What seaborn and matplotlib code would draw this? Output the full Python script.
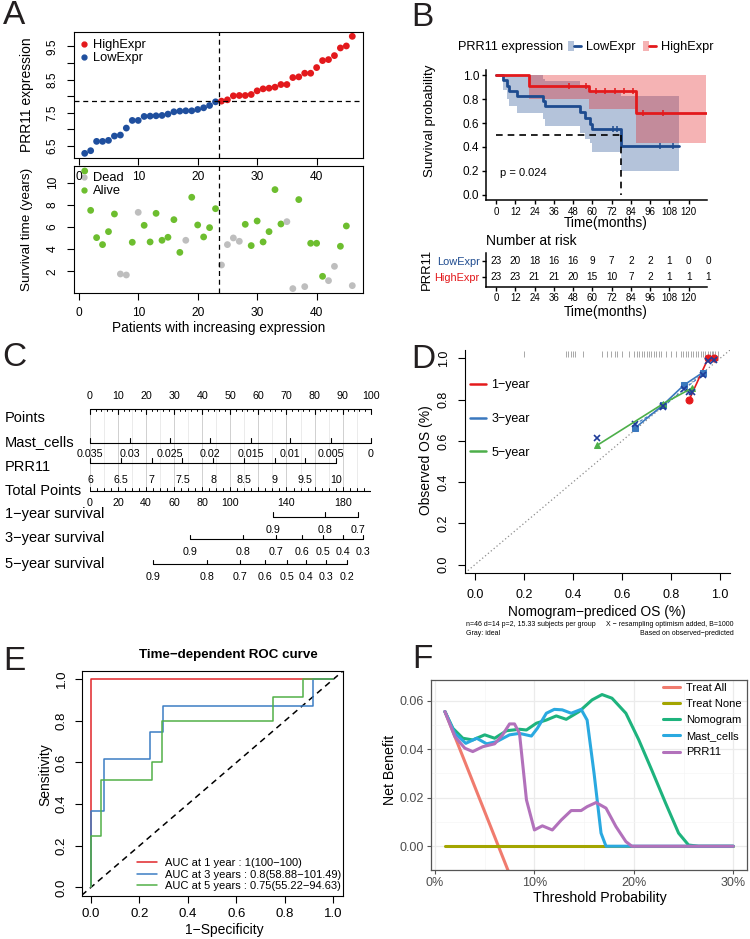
import numpy as np
import pandas as pd
import matplotlib
matplotlib.use("Agg")
import matplotlib.pyplot as plt
import seaborn as sns
from matplotlib.lines import Line2D
from matplotlib.patches import Patch
from matplotlib.legend_handler import HandlerTuple
from matplotlib.ticker import MultipleLocator

sns.set_theme(style="ticks", rc={"axes.edgecolor": "black", "xtick.color": "black",
                                 "ytick.color": "black", "text.color": "black",
                                 "axes.labelcolor": "black"})
plt.rcParams['font.family'] = ['Liberation Sans', 'DejaVu Sans']

#%% data
# A - patients sorted by PRR11 expression
prr11_expr = [6.28, 6.36, 6.64, 6.64, 6.67, 6.80, 6.83, 7.04, 7.27, 7.27,
              7.39, 7.40, 7.41, 7.42, 7.46, 7.53, 7.55, 7.56, 7.56, 7.60,
              7.65, 7.72, 7.83, 7.85, 7.89, 8.01, 8.02, 8.02, 8.05, 8.16,
              8.22, 8.24, 8.27, 8.35, 8.35, 8.56, 8.58, 8.69, 8.69, 8.86,
              9.07, 9.10, 9.22, 9.45, 9.51, 9.80]
surv_years = [11.05, 7.50, 5.04, 4.41, 5.58, 7.17, 1.76, 1.67, 4.62, 7.32,
              6.15, 4.65, 7.23, 4.80, 5.07, 6.66, 3.71, 4.80, 8.68, 6.18,
              5.10, 5.94, 7.65, 2.57, 4.41, 5.01, 4.71, 6.24, 4.32, 6.54,
              4.65, 5.58, 9.37, 6.27, 6.48, 0.44, 8.47, 0.62, 4.53, 4.53,
              1.55, 1.16, 2.45, 4.26, 6.09, 0.71]
dead_idx = [7, 8, 10, 18, 24, 25, 26, 27, 35, 36, 38, 42, 43, 46]
n_low = 23
expr_cut = 7.84

# B - Kaplan-Meier
km_low_t = [0, 4.6, 6.6, 8.3, 12.8, 29.4, 30.8, 52.2, 55.3, 58.4, 59.8, 78.0, 113.7]
km_low_s = [1.0, 0.957, 0.913, 0.870, 0.826, 0.783, 0.739, 0.690, 0.640, 0.595, 0.553, 0.410, 0.410]
km_low_lo = [1.0, 0.88, 0.80, 0.74, 0.687, 0.63, 0.575, 0.514, 0.47, 0.43, 0.36, 0.198, 0.198]
km_low_hi = [1.0, 1.0, 1.0, 1.0, 1.0, 0.97, 0.95, 0.92, 0.90, 0.87, 0.85, 0.83, 0.83]
km_low_cens = [72.9, 75.4, 101.9, 110.1]
km_high_t = [0, 20.5, 57.8, 87.4, 130.8]
km_high_s = [1.0, 0.913, 0.866, 0.687, 0.687]
km_high_lo = [1.0, 0.80, 0.72, 0.43, 0.43]
km_high_hi = [1.0, 1.0, 1.0, 1.0, 1.0]
km_high_cens = [45.3, 55.9, 62.5, 67.7, 73.9, 80.0, 85.3, 91.5, 104.0]
km_median_low = 78.0
km_pval = "p = 0.024"
risk_times = [0, 12, 24, 36, 48, 60, 72, 84, 96, 108, 120, 132]
risk_low = [23, 20, 18, 16, 16, 9, 7, 2, 2, 1, 0, 0]
risk_high = [23, 23, 21, 21, 20, 15, 10, 7, 2, 1, 1, 1]

# C - nomogram (positions on the 0-100 points scale)
mast_labels = ["0.035", "0.03", "0.025", "0.02", "0.015", "0.01", "0.005", "0"]
mast_pts = [0, 14.3, 28.6, 42.9, 57.2, 71.4, 85.7, 100]
prr_labels = ["6", "6.5", "7", "7.5", "8", "8.5", "9", "9.5", "10"]
prr_pts = [0, 10.9, 22.0, 32.9, 43.9, 54.9, 65.8, 76.7, 87.6]
total_labels = [0, 20, 40, 60, 80, 100, 140, 180]
total_max = 200
surv1_labels = ["0.9", "0.8", "0.7"]
surv1_total = [130.2, 167.5, 191.2]
surv3_labels = ["0.9", "0.8", "0.7", "0.6", "0.5", "0.4", "0.3"]
surv3_total = [71.3, 108.8, 132.5, 150.8, 166.3, 180.5, 194.3]
surv5_labels = ["0.9", "0.8", "0.7", "0.6", "0.5", "0.4", "0.3", "0.2"]
surv5_total = [45.1, 83.1, 106.9, 124.7, 140.1, 153.9, 167.9, 182.9]

# D - calibration
cal_pred_1y = [0.874, 0.951, 0.976]
cal_obs_1y = [0.80, 1.0, 1.0]
cal_cor_1y = [0.835, 0.985, 0.99]
cal_pred_3y = [0.653, 0.768, 0.852, 0.928]
cal_obs_3y = [0.662, 0.775, 0.870, 0.930]
cal_cor_3y = [0.680, 0.765, 0.850, 0.920]
cal_pred_5y = [0.498, 0.768, 0.884]
cal_obs_5y = [0.578, 0.780, 0.855]
cal_cor_5y = [0.615, 0.770, 0.835]
rug_pred = [0.20, 0.37, 0.38, 0.39, 0.40, 0.41, 0.44, 0.52, 0.54, 0.555, 0.57, 0.58,
            0.60, 0.63, 0.65, 0.66, 0.67, 0.68, 0.69, 0.70, 0.71, 0.72, 0.73, 0.74,
            0.75, 0.76, 0.78, 0.80, 0.82, 0.84, 0.85, 0.86, 0.87, 0.88, 0.89, 0.90,
            0.91, 0.92, 0.93, 0.94, 0.95, 0.96, 0.965, 0.97, 0.98, 0.99]

# E - time dependent ROC
roc1_fpr = [0, 0, 1.0]
roc1_tpr = [0, 1.0, 1.0]
roc3_fpr = [0, 0, 0.056, 0.056, 0.243, 0.243, 0.298, 0.298, 0.917, 0.917, 1.0]
roc3_tpr = [0, 0.369, 0.369, 0.619, 0.619, 0.745, 0.745, 0.872, 0.872, 1.0, 1.0]
roc5_fpr = [0, 0, 0.04, 0.04, 0.25, 0.25, 0.294, 0.294, 0.75, 0.75, 0.876, 0.876, 1.0]
roc5_tpr = [0, 0.248, 0.248, 0.516, 0.516, 0.601, 0.601, 0.801, 0.801, 0.915, 0.915, 1.0, 1.0]
roc_labels = ["AUC at 1 year : 1(100\u2212100)",
              "AUC at 3 years : 0.8(58.88\u2212101.49)",
              "AUC at 5 years : 0.75(55.22\u221294.63)"]

# F - decision curves
dca_all_x = [0.01, 0.08]
dca_all_y = [0.0555, -0.0167]
dca_none_x = [0.01, 0.30]
dca_none_y = [0.0, 0.0]
dca_nomo_x = [0.01, 0.018, 0.028, 0.038, 0.05, 0.06, 0.072, 0.085, 0.092, 0.102, 0.112, 0.122,
              0.132, 0.145, 0.158, 0.168, 0.178, 0.192, 0.205, 0.218, 0.232, 0.245, 0.255, 0.265, 0.30]
dca_nomo_y = [0.0555, 0.0486, 0.0445, 0.0438, 0.0459, 0.0445, 0.0476, 0.0482, 0.0479, 0.0507, 0.052,
              0.0537, 0.0523, 0.0555, 0.0603, 0.0625, 0.061, 0.0548, 0.0438, 0.0314, 0.0177, 0.0054,
              0.0005, 0.0, 0.0]
dca_mast_x = [0.01, 0.02, 0.031, 0.042, 0.052, 0.062, 0.075, 0.085, 0.097, 0.103, 0.112, 0.12,
              0.128, 0.137, 0.147, 0.153, 0.16, 0.167, 0.172, 0.30]
dca_mast_y = [0.0555, 0.0465, 0.0424, 0.0445, 0.0422, 0.0431, 0.0459, 0.0465, 0.0454, 0.0486,
              0.0548, 0.0564, 0.0562, 0.0548, 0.0564, 0.052, 0.030, 0.0054, 0.0, 0.0]
dca_prr_x = [0.01, 0.02, 0.03, 0.038, 0.048, 0.06, 0.068, 0.075, 0.08, 0.085, 0.092, 0.10, 0.108,
             0.118, 0.127, 0.137, 0.147, 0.153, 0.162, 0.172, 0.182, 0.192, 0.198, 0.30]
dca_prr_y = [0.0555, 0.0452, 0.0404, 0.039, 0.041, 0.0422, 0.0459, 0.0504, 0.0504, 0.0465, 0.0191,
             0.0067, 0.0084, 0.0067, 0.0108, 0.0147, 0.0147, 0.0163, 0.018, 0.0157, 0.0081, 0.0019,
             0.0, 0.0]
dca_names = ["Treat All", "Treat None", "Nomogram", "Mast_cells", "PRR11"]

#%% figure helpers
W, H = 750, 939
fig = plt.figure(figsize=(W / 100, H / 100), dpi=100)


def box(l, t, r, b):
    return [l / W, 1 - b / H, (r - l) / W, (b - t) / H]


def ftext(x, y, s, **kw):
    return fig.text(x / W, 1 - y / H, s, **kw)


def fanchor(x, y):
    return dict(bbox_to_anchor=(x / W, 1 - y / H), bbox_transform=fig.transFigure)


def r_style(ax, fs=8.6, pad=3):
    for s in ax.spines.values():
        s.set_linewidth(0.8)
    ax.tick_params(direction='out', length=5, width=0.8, labelsize=fs, pad=pad)


letter_kw = dict(fontsize=24, ha='center', va='center', color='#231F20')
red, blue = "#E3191C", "#1F4F9E"
green, grey = "#6DBE2F", "#BEBEBE"

#%% A
df_a = pd.DataFrame({"patient": np.arange(1, len(prr11_expr) + 1),
                     "expr": prr11_expr, "years": surv_years})
df_a["group"] = np.where(df_a.patient <= n_low, "LowExpr", "HighExpr")
df_a["status"] = np.where(df_a.patient.isin(dead_idx), "Dead", "Alive")

ax_a2 = fig.add_axes(box(74, 166, 363, 293))
ax_a1 = fig.add_axes(box(74, 32, 363, 158))

sns.scatterplot(data=df_a, x="patient", y="expr", hue="group",
                palette={"LowExpr": blue, "HighExpr": red}, s=24, edgecolor="none",
                legend=False, ax=ax_a1)
ax_a1.axhline(expr_cut, color='black', lw=0.9, ls=(0, (4, 3)))
ax_a1.axvline(n_low + 0.5, color='black', lw=0.9, ls=(0, (4, 3)))
ax_a1.set_xlim(-0.8, 47.8)
ax_a1.set_ylim(6.14, 9.93)
ax_a1.set_xticks([0, 10, 20, 30, 40])
ax_a1.set_yticks(np.arange(6.5, 9.6, 0.5), ["6.5", "", "7.5", "", "8.5", "", "9.5"],
                 rotation=90, va='center')
r_style(ax_a1)
ax_a1.tick_params(axis='y', pad=6)
ax_a1.tick_params(axis='x', pad=4.5)
ax_a1.set_xlabel("")
ax_a1.set_ylabel("")
ax_a1.legend(handles=[Line2D([], [], ls='', marker='o', ms=3.5, color=red, label="HighExpr"),
                      Line2D([], [], ls='', marker='o', ms=3.5, color=blue, label="LowExpr")],
             loc='upper left', frameon=False, fontsize=9.3, handlelength=0.8,
             handletextpad=0.3, labelspacing=0.1, borderpad=0, borderaxespad=0,
             **fanchor(79, 39))

sns.scatterplot(data=df_a, x="patient", y="years", hue="status",
                palette={"Dead": grey, "Alive": green}, s=24, edgecolor="none",
                legend=False, ax=ax_a2)
ax_a2.axvline(n_low + 0.5, color='black', lw=0.9, ls=(0, (4, 3)))
ax_a2.set_xlim(-0.8, 47.8)
ax_a2.set_ylim(0.045, 11.5)
ax_a2.set_xticks([0, 10, 20, 30, 40])
ax_a2.set_yticks([2, 4, 6, 8, 10], ["2", "4", "6", "8", "10"], rotation=90, va='center')
r_style(ax_a2)
ax_a2.tick_params(axis='y', pad=6)
ax_a2.tick_params(axis='x', pad=5)
ax_a2.set_xlabel("")
ax_a2.set_ylabel("")
ax_a2.legend(handles=[Line2D([], [], ls='', marker='o', ms=3.5, color=grey, label="Dead"),
                      Line2D([], [], ls='', marker='o', ms=3.5, color=green, label="Alive")],
             loc='upper left', frameon=False, fontsize=9.3, handlelength=0.8,
             handletextpad=0.3, labelspacing=0.1, borderpad=0, borderaxespad=0,
             **fanchor(79, 172))
ftext(27, 95, "PRR11 expression", rotation=90, ha='center', va='center', fontsize=10)
ftext(27, 229, "Survival time (years)", rotation=90, ha='center', va='center', fontsize=9.7)
ftext(219, 328, "Patients with increasing expression", ha='center', va='center', fontsize=9.8)
ftext(14, 16, "A", **letter_kw)

#%% B
km_blue = "#1E4B8F"
ax_b = fig.add_axes(box(486, 70, 707, 200))
curves = [(km_low_t, km_low_s, km_low_lo, km_low_hi, km_low_cens, km_blue),
          (km_high_t, km_high_s, km_high_lo, km_high_hi, km_high_cens, red)]
for t, s, lo, hi, cens, col in curves:
    ax_b.fill_between(t, lo, hi, step='post', color=col, alpha=0.33, lw=0)
for t, s, lo, hi, cens, col in curves:
    sns.lineplot(x=t, y=s, drawstyle='steps-post', color=col, lw=2.0,
                 estimator=None, sort=False, ax=ax_b)
    idx = np.searchsorted(t, cens, side='right') - 1
    ax_b.plot(cens, np.array(s)[idx], ls='', marker='|', ms=5, mew=1.1, color=col)
ax_b.plot([0, km_median_low], [0.5, 0.5], color='black', lw=1.2, ls=(0, (4, 3)))
ax_b.plot([km_median_low, km_median_low], [0.5, 0], color='black', lw=1.2, ls=(0, (4, 3)))
ax_b.text(2.5, 0.18, km_pval, fontsize=8, ha='left', va='center')
ax_b.set_xlim(-6.2, 131.4)
ax_b.set_ylim(-0.045, 1.045)
ax_b.set_xticks(risk_times[:-1])
ax_b.set_yticks([0, 0.2, 0.4, 0.6, 0.8, 1.0], ["0.0", "0.2", "0.4", "0.6", "0.8", "1.0"])
sns.despine(ax=ax_b)
for s in ax_b.spines.values():
    s.set_linewidth(1.1)
ax_b.tick_params(direction='out', length=3, width=1.0, pad=2)
ax_b.tick_params(axis='x', labelsize=7)
ax_b.tick_params(axis='y', labelsize=8.5)
ftext(430, 121, "Survival probability", rotation=90, ha='center', va='center', fontsize=9.6)
ftext(606, 223.5, "Time(months)", ha='center', va='center', fontsize=9.8)
ftext(458, 47, "PRR11 expression", ha='left', va='center', fontsize=9.2)
keys = [(Patch(facecolor=col, alpha=0.33, lw=0), Line2D([], [], color=col, lw=2.0))
        for col in (km_blue, red)]
fig.legend(keys, ["LowExpr", "HighExpr"], handler_map={tuple: HandlerTuple(ndivide=None)},
           ncol=2, loc='center left', frameon=False, fontsize=9.2, handlelength=1.0,
           handleheight=0.9, handletextpad=0.4, columnspacing=0.6, borderpad=0,
           borderaxespad=0, **fanchor(568, 47))
ftext(422, 18, "B", **letter_kw)

# risk table
ax_t = fig.add_axes(box(486, 253, 707, 287))
for row, vals in enumerate([risk_low, risk_high]):
    for t, v in zip(risk_times, vals):
        ax_t.text(t, row, str(v), ha='center', va='center', fontsize=7.2, clip_on=False)
ax_t.set_xlim(-6.2, 131.4)
ax_t.set_ylim(1.61, -0.52)
ax_t.set_xticks(risk_times[:-1])
ax_t.set_yticks([0, 1], ["LowExpr", "HighExpr"])
ax_t.get_yticklabels()[0].set_color(km_blue)
ax_t.get_yticklabels()[1].set_color(red)
sns.despine(ax=ax_t)
for s in ax_t.spines.values():
    s.set_linewidth(1.1)
ax_t.tick_params(direction='out', length=3, width=1.0, pad=1.5)
ax_t.tick_params(axis='x', labelsize=7)
ax_t.tick_params(axis='y', labelsize=7.9)
ftext(486, 241, "Number at risk", ha='left', va='center', fontsize=10)
ftext(427, 269, "PRR11", rotation=90, ha='center', va='center', fontsize=9.4)
ftext(606, 312, "Time(months)", ha='center', va='center', fontsize=9.8)

#%% C nomogram
ax_c = fig.add_axes(box(90, 380, 370.7, 590))
ax_c.set_xlim(0, 100)
ax_c.set_ylim(590, 380)
ax_c.axis('off')
row_y = {"Points": 409, "Mast_cells": 442.7, "PRR11": 462.7, "Total Points": 490.7,
         "1\u2212year survival": 516.7, "3\u2212year survival": 539, "5\u2212year survival": 564.3}
label_y = {"Points": 418, "Mast_cells": 441.7, "PRR11": 466.7, "Total Points": 491,
           "1\u2212year survival": 514.3, "3\u2212year survival": 538.3,
           "5\u2212year survival": 564}
tick_fs = 7.7

for p in np.arange(0, 101, 5):
    ax_c.plot([p, p], [row_y["Points"], row_y["Total Points"]],
              color='#D0D0D0' if p % 10 == 0 else '#EBEBEB', lw=0.7, zorder=0)


def nomo_scale(y, pos, labels, up=True, lab_off=11.5, minor=None, tl=4.5):
    ax_c.plot([pos[0], pos[-1]], [y, y], color='black', lw=0.8, clip_on=False)
    sgn = -1 if up else 1
    if minor is not None:
        for p in minor:
            ax_c.plot([p, p], [y, y + sgn * tl * 0.55], color='black', lw=0.7, clip_on=False)
    for p in pos:
        ax_c.plot([p, p], [y, y + sgn * tl], color='black', lw=0.8, clip_on=False)
    for p, lab in zip(pos, labels):
        ax_c.text(p, y + (lab_off if up else -lab_off), lab, ha='center', va='center',
                  fontsize=tick_fs, clip_on=False)


nomo_scale(row_y["Points"], list(range(0, 101, 10)), [str(v) for v in range(0, 101, 10)],
           up=False, lab_off=13, minor=np.arange(0, 101, 2))
nomo_scale(row_y["Mast_cells"], mast_pts, mast_labels)
nomo_scale(row_y["PRR11"], prr_pts, prr_labels, lab_off=17.3)
tot_scale = 100 / total_max
ax_c.plot([0, 100], [row_y["Total Points"]] * 2, color='black', lw=0.8)
for v in range(0, total_max + 1, 5):
    ax_c.plot([v * tot_scale] * 2, [row_y["Total Points"], row_y["Total Points"] - (4 if v % 20 == 0 else 2.5)],
              color='black', lw=0.7)
for v in total_labels:
    ax_c.text(v * tot_scale, row_y["Total Points"] + 12, str(v), ha='center', va='center',
              fontsize=tick_fs)
for key, tot, labs in [("1\u2212year survival", surv1_total, surv1_labels),
                       ("3\u2212year survival", surv3_total, surv3_labels),
                       ("5\u2212year survival", surv5_total, surv5_labels)]:
    nomo_scale(row_y[key], [v * tot_scale for v in tot], labs, lab_off=13)
for key, y in label_y.items():
    ax_c.text(-30.3, y, key, ha='left', va='center', fontsize=10.5, clip_on=False)
ftext(14, 358, "C", **letter_kw)

#%% D calibration
cal_red, cal_blue, cal_green, x_col = "#E41A1C", "#3A78BE", "#4DAF4A", "#1F3C99"
ax_d = fig.add_axes(box(465, 350, 730, 573))
ax_d.axline((0, 0), slope=1, color='#8C8C8C', lw=0.9, ls=(0, (1, 2)))
ax_d.vlines(rug_pred, 1.008, 1.035, color='#9A9A9A', lw=0.6, clip_on=False)
ax_d.plot(cal_pred_3y, cal_cor_3y, color=cal_blue, lw=0.8, ls=(0, (3, 2)))
for pred, obs, cor, col, mk in [(cal_pred_1y, cal_obs_1y, cal_cor_1y, cal_red, 'o'),
                                (cal_pred_3y, cal_obs_3y, cal_cor_3y, cal_blue, 's'),
                                (cal_pred_5y, cal_obs_5y, cal_cor_5y, cal_green, '^')]:
    sns.lineplot(x=pred, y=obs, color=col, lw=1.2, marker=mk, ms=5, mec=col,
                 estimator=None, sort=False, ax=ax_d)
    ax_d.plot(pred, cor, ls='', marker='x', ms=5, mew=1.2, color=x_col)
ax_d.set_xlim(-0.04, 1.04)
ax_d.set_ylim(-0.04, 1.04)
ax_d.set_xticks(np.arange(0, 1.01, 0.2), ["0.0", "0.2", "0.4", "0.6", "0.8", "1.0"])
ax_d.set_yticks(np.arange(0, 1.01, 0.2), ["0.0", "0.2", "0.4", "0.6", "0.8", "1.0"],
                rotation=90, va='center')
sns.despine(ax=ax_d)
r_style(ax_d, fs=9, pad=6)
ax_d.tick_params(axis='x', pad=6.5)
ax_d.legend(handles=[Line2D([], [], color=c, lw=1.8, label=l) for c, l in
                     [(cal_red, "1\u2212year"), (cal_blue, "3\u2212year"), (cal_green, "5\u2212year")]],
            loc='upper left', frameon=False, fontsize=9, handlelength=1.25, handletextpad=0.45,
            labelspacing=1.75, borderpad=0, borderaxespad=0, **fanchor(470, 379))
ftext(426, 460, "Observed OS (%)", rotation=90, ha='center', va='center', fontsize=10)
ftext(597, 612, "Nomogram\u2212prediced OS (%)", ha='center', va='center', fontsize=9.9)
ftext(466, 625, "n=46 d=14 p=2, 15.33 subjects per group", ha='left', va='center', fontsize=5)
ftext(466, 633.5, "Gray: ideal", ha='left', va='center', fontsize=5)
ftext(734, 625, "X \u2212 resampling optimism added, B=1000", ha='right', va='center', fontsize=5)
ftext(734, 633.5, "Based on observed\u2212predicted", ha='right', va='center', fontsize=5)
ftext(423, 360, "D", **letter_kw)

#%% E ROC
roc_cols = ["#E0262A", "#3C7DC4", "#52B048"]
ax_e = fig.add_axes(box(81.7, 670.7, 343.3, 895.7))
ax_e.axline((0, 0), slope=1, color='black', lw=1.1, ls=(0, (4, 3)))
for fpr, tpr, col in [(roc1_fpr, roc1_tpr, roc_cols[0]), (roc3_fpr, roc3_tpr, roc_cols[1]),
                      (roc5_fpr, roc5_tpr, roc_cols[2])]:
    sns.lineplot(x=fpr, y=tpr, color=col, lw=1.1, estimator=None, sort=False, ax=ax_e)
ax_e.set_xlim(-0.038, 1.041)
ax_e.set_ylim(-0.04, 1.041)
ax_e.set_xticks(np.arange(0, 1.01, 0.2), ["0.0", "0.2", "0.4", "0.6", "0.8", "1.0"])
ax_e.set_yticks(np.arange(0, 1.01, 0.2), ["0.0", "0.2", "0.4", "0.6", "0.8", "1.0"],
                rotation=90, va='center')
r_style(ax_e, fs=9.5, pad=5)
ax_e.tick_params(axis='x', pad=4)
ax_e.legend(handles=[Line2D([], [], color=c, lw=1.1, label=l) for c, l in zip(roc_cols, roc_labels)],
            loc='lower left', frameon=False, fontsize=8, handlelength=1.8, handletextpad=0.75,
            labelspacing=0.12, borderpad=0, borderaxespad=0, **fanchor(136.7, 891))
ftext(228, 655, "Time\u2212dependent ROC curve", ha='center', va='center', fontsize=9.6,
      fontweight='bold')
ftext(45, 775, "Sensitivity", rotation=90, ha='center', va='center', fontsize=10)
ftext(224, 930, "1\u2212Specificity", ha='center', va='center', fontsize=10)
ftext(14, 661, "E", **letter_kw)

#%% F decision curve
dca_cols = ["#F07B6E", "#A3A500", "#1EB37D", "#2AA9E0", "#B271BB"]
df_f = pd.concat([pd.DataFrame({"thr": x, "nb": y, "model": n}) for x, y, n in
                  zip([dca_all_x, dca_none_x, dca_nomo_x, dca_mast_x, dca_prr_x],
                      [dca_all_y, dca_none_y, dca_nomo_y, dca_mast_y, dca_prr_y], dca_names)])
ax_f = fig.add_axes(box(430.7, 680, 746.7, 870))
ax_f.set_facecolor('white')
sns.lineplot(data=df_f, x="thr", y="nb", hue="model", hue_order=dca_names,
             palette=dict(zip(dca_names, dca_cols)), lw=2.2, estimator=None, sort=False,
             legend=False, ax=ax_f)
ax_f.set_xlim(-0.0043, 0.3135)
ax_f.set_ylim(-0.0098, 0.0685)
ax_f.set_xticks([0, 0.1, 0.2, 0.3], ["0%", "10%", "20%", "30%"])
ax_f.set_yticks([0, 0.02, 0.04, 0.06], ["0.00", "0.02", "0.04", "0.06"])
ax_f.xaxis.set_minor_locator(MultipleLocator(0.05))
ax_f.yaxis.set_minor_locator(MultipleLocator(0.01))
ax_f.grid(True, which='major', color='#EBEBEB', lw=0.9)
ax_f.grid(True, which='minor', color='#F5F5F5', lw=0.5)
ax_f.set_axisbelow(True)
for s in ax_f.spines.values():
    s.set_color('#555555')
    s.set_linewidth(0.9)
ax_f.tick_params(which='major', direction='out', length=3, width=0.8, color='#555555',
                 labelcolor='#4D4D4D', labelsize=9, pad=2)
ax_f.tick_params(which='minor', length=0)
ax_f.set_xlabel("")
ax_f.set_ylabel("")
ax_f.legend(handles=[Line2D([], [], color=c, lw=2.2, label=n) for c, n in zip(dca_cols, dca_names)],
            loc='upper left', frameon=False, fontsize=8, handlelength=1.5, handletextpad=0.6,
            labelspacing=0.55, borderpad=0, borderaxespad=0, **fanchor(663, 683))
ftext(390, 770, "Net Benefit", rotation=90, ha='center', va='center', fontsize=10.2)
ftext(600, 898, "Threshold Probability", ha='center', va='center', fontsize=10.2)
ftext(422, 660, "F", **letter_kw)

fig.savefig("out.png", dpi=100, facecolor='white')
